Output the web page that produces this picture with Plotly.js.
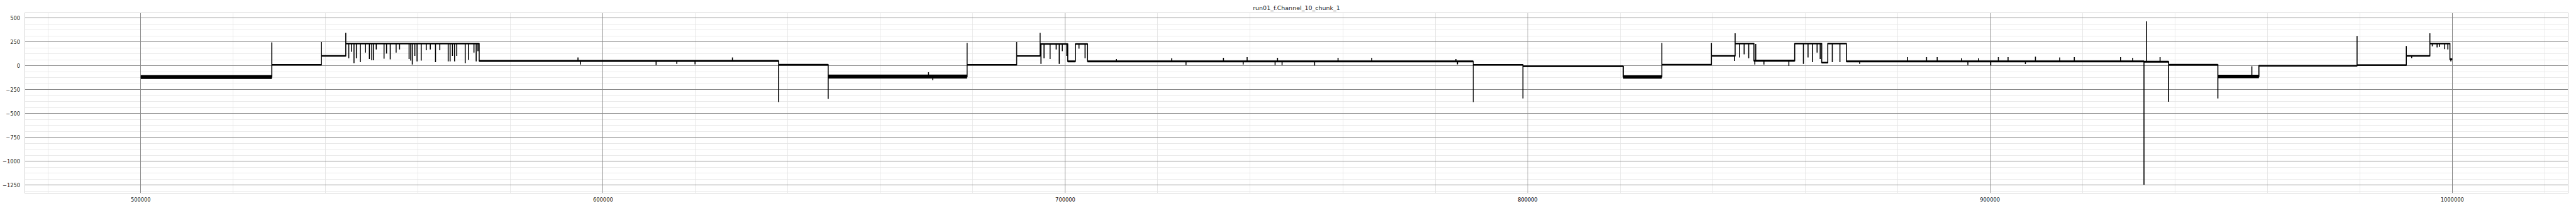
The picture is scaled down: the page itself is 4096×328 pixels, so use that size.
<!DOCTYPE html>
<html>
<head>
<meta charset="utf-8">
<script src="https://cdn.plot.ly/plotly-3.0.1.min.js"></script>
<style>
  html, body { margin: 0; padding: 0; background: #ffffff; }
  #chart { width: 4096px; height: 328px; }
</style>
</head>
<body>
<div id="chart"></div>
<script>
// ---- data ----
const chartTitle = "run01_f.Channel_10_chunk_1";

// plateau segments of the signal
const segStart  = [500000, 528356, 539079, 544350, 573208, 637980, 648700, 678750, 689470, 694540,
                   700520, 702170, 704800, 788240, 798980, 820680, 829030, 839750, 844880, 848950,
                   857770, 863610, 864920, 868950, 933320, 938640, 949300, 958180, 979410, 990060,
                   995160, 999500];
const segEnd    = [528356, 539079, 544350, 573208, 637980, 648700, 678750, 689470, 694540, 700520,
                   702170, 704800, 788240, 798980, 820680, 829030, 839750, 844880, 848950, 857770,
                   863610, 864920, 868950, 933320, 938640, 949300, 958180, 979410, 990060, 995160,
                   999500, 1000000];
const segLevel  = [-118, 10, 103, 232, 50, 10, -113, 10, 102, 228,
                   45, 228, 45, 10, -5, -117, 12, 103, 232, 53,
                   232, 32, 232, 45, 42, 10, -113, 0, 7, 103,
                   232, 68];
const segSpread = [21, 8, 8, 8, 10, 9, 21, 8, 8, 8,
                   10, 8, 10, 8, 8, 18, 8, 8, 8, 10,
                   8, 8, 8, 10, 10, 9, 18, 8, 8, 8,
                   8, 10];

// isolated spikes (x position, extreme value)
const spikeX = [528356, 539079, 544350,
  545000, 545620, 546130, 546650, 547500, 548610, 549460, 549980, 550360, 550940,
  552630, 553170, 553970, 555240, 555990, 558050, 558400, 558740, 559290, 559770,
  560670, 561760, 562630, 563760, 564690, 566510, 566920, 567430, 567890, 568360,
  570190, 570910, 572080, 572560, 572940,
  594580, 595110, 611480, 615960, 619900, 627990,
  637980, 648700, 670400, 671330, 678750, 689470, 694540,
  694730, 695390, 696700, 698020, 698680, 699340, 700320, 702950, 704270,
  711050, 723010, 726100, 734200, 738470, 739320, 745370, 745900, 746880, 753920,
  758990, 766280, 784490, 784820,
  788240, 798980, 829030, 839750, 844730, 844880,
  845860, 846830, 847820, 849140, 849340, 851110, 856500,
  859650, 860650, 861630, 862610, 863280, 865900, 867550,
  871820, 882150, 886290, 888590, 893850, 895230, 897540, 900170, 901820, 903920,
  907670, 909840, 915090, 918250, 928250, 930880,
  933320, 933840, 936800, 938640, 949300, 956650, 979410, 990060, 991220, 995160,
  995690, 996720, 997240, 998370, 999050, 999700];
const spikeY = [245, 248, 345,
  78, 145, 28, 78, 37, 137, 70, 57, 57, 170,
  73, 128, 67, 137, 170, 70, 53, 12, 103, 45,
  53, 162, 170, 37, 162, 45, 45, 103, 45, 103,
  28, 62, 137, 45, 153,
  87, 12, 7, 20, 15, 87,
  -380, -347, -68, -150, 240, 248, 345,
  20, 78, 70, 170, 20, 153, 103, 178, 78,
  70, 78, 7, 83, 12, 90, 7, 83, 7, 3,
  83, 83, 70, 15,
  -380, -343, 240, 240, 50, 340,
  87, 120, 78, 12, 228, 12, 0,
  20, 87, 37, 137, 70, 37, 37,
  20, 90, 90, 90, 78, 7, 78, 3, 90, 90,
  17, 95, 87, 90, 90, 83,
  -1245, 465, 90, -377, -343, -5, 312, 207, 80, 340,
  204, 191, 196, 174, 171, 46];

// ---- build traces from the arrays ----
const lineX = [], lineY = [];
const bandX = [], bandY = [];
for (let i = 0; i < segStart.length; i++) {
  const s = segStart[i], e = segEnd[i], lv = segLevel[i], sp = segSpread[i];
  lineX.push(s); lineY.push(lv);
  const idx = [];
  for (let k = 0; k < spikeX.length; k++) {
    if (spikeX[k] >= s && spikeX[k] < e) idx.push(k);
  }
  idx.sort((a, b) => spikeX[a] - spikeX[b]);
  for (const k of idx) {
    lineX.push(spikeX[k], spikeX[k], spikeX[k]);
    lineY.push(lv, spikeY[k], lv);
  }
  lineX.push(e); lineY.push(lv);
  bandX.push(s, e, e, s, s, null);
  bandY.push(lv - sp, lv - sp, lv + sp, lv + sp, lv - sp, null);
}

const traces = [
  {
    type: 'scatter', mode: 'lines', x: bandX, y: bandY,
    fill: 'toself', fillcolor: '#000000',
    line: { width: 0, color: '#000000' },
    hoverinfo: 'skip', showlegend: false
  },
  {
    type: 'scatter', mode: 'lines', x: lineX, y: lineY,
    line: { width: 1.6, color: '#000000' },
    showlegend: false
  }
];

const tickFont = { family: 'DejaVu Sans, sans-serif', size: 8.3, color: '#262626' };

const layout = {
  width: 4096, height: 328,
  margin: { l: 40, r: 13, t: 21, b: 21, pad: 0 },
  paper_bgcolor: '#ffffff', plot_bgcolor: '#ffffff',
  showlegend: false,
  title: {
    text: chartTitle,
    font: { family: 'DejaVu Sans, sans-serif', size: 9.5, color: '#262626' },
    x: 0.5, xref: 'paper', xanchor: 'center',
    y: 1 - 13 / 328, yref: 'container', yanchor: 'middle'
  },
  xaxis: {
    range: [475000, 1025000],
    tick0: 0, dtick: 100000, tickformat: 'd',
    showgrid: true, gridcolor: '#8a8a8a', gridwidth: 1,
    minor: { tick0: 0, dtick: 20000, showgrid: true, gridcolor: '#e3e3e3', gridwidth: 0.8, ticks: '' },
    zeroline: false,
    showline: true, linecolor: '#d0d0d0', linewidth: 1.2, mirror: true,
    ticks: '', ticklabelstandoff: 3,
    tickfont: tickFont
  },
  yaxis: {
    range: [-1330, 550],
    tick0: 0, dtick: 250, tickformat: 'd',
    showgrid: true, gridcolor: '#8a8a8a', gridwidth: 1,
    minor: { tick0: 0, dtick: 62.5, showgrid: true, gridcolor: '#e3e3e3', gridwidth: 0.8, ticks: '' },
    zeroline: false,
    showline: true, linecolor: '#d0d0d0', linewidth: 1.2, mirror: true,
    ticks: '', ticklabelstandoff: 5,
    tickfont: tickFont
  }
};

Plotly.newPlot('chart', traces, layout, { staticPlot: true, displayModeBar: false });
</script>
</body>
</html>
